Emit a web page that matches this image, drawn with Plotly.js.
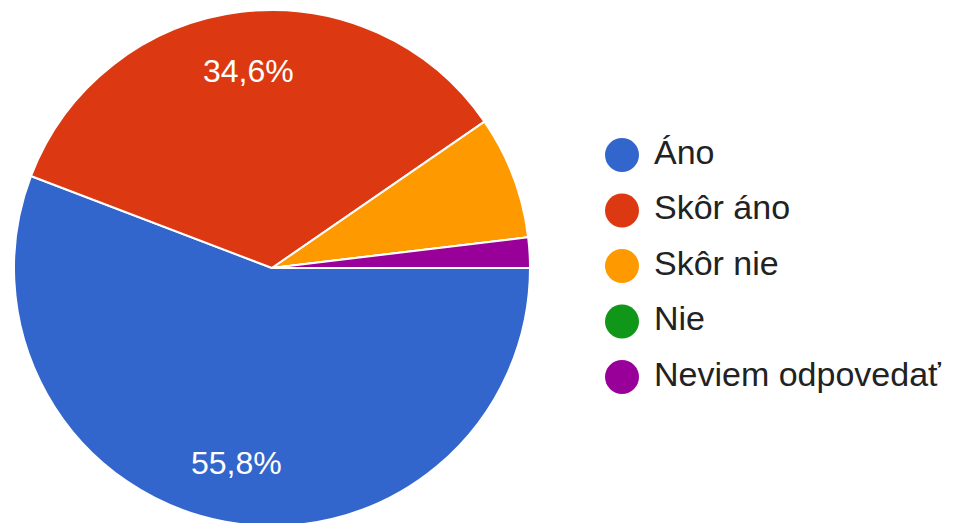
<!DOCTYPE html>
<html>
<head>
<meta charset="utf-8">
<script src="https://cdn.plot.ly/plotly-3.0.1.min.js"></script>
<style>
html, body { margin: 0; padding: 0; overflow: hidden; background: #fff; }
#chart { width: 954px; height: 540px; }
</style>
</head>
<body>
<div id="chart"></div>
<script>
// Data
const categories = ["Áno", "Skôr áno", "Skôr nie", "Nie", "Neviem odpovedať"];
const percents = [55.8, 34.6, 7.7, 0, 1.9];
const colors = ["#3366cc", "#dc3912", "#ff9900", "#109618", "#990099"];

const sliceLabels = percents.map(v => v >= 10 ? v.toFixed(1).replace('.', ',') + '%' : '');

const W = 954, H = 540;
const cx = 272, cy = 268, R = 258;
const FONT = 'Liberation Sans, Arial, sans-serif';

const pie = {
  type: 'pie',
  labels: categories,
  values: percents,
  textinfo: 'none',
  sort: false,
  direction: 'clockwise',
  rotation: 90,
  marker: { colors: colors, line: { color: '#ffffff', width: 2 } },
  showlegend: false,
  hoverinfo: 'label+percent',
  domain: { x: [(cx - R) / W, (cx + R) / W], y: [(H - cy - R) / H, (H - cy + R) / H] }
};

// Slice percentage labels placed along each slice's bisector (Google-style, ~0.77 R)
const total = percents.reduce((a, b) => a + b, 0);
let cum = 0;
const annotations = [];
percents.forEach((v, i) => {
  const startDeg = cum / total * 360;
  cum += v;
  const endDeg = cum / total * 360;
  if (!sliceLabels[i]) return;
  const mid = (startDeg + endDeg) / 2 * Math.PI / 180; // clockwise from 3 o'clock
  const px = cx + 0.77 * R * Math.cos(mid);
  const py = cy + 0.77 * R * Math.sin(mid);
  annotations.push({
    xref: 'paper', yref: 'paper', x: px / W, y: 1 - py / H,
    xanchor: 'center', yanchor: 'middle', showarrow: false,
    text: sliceLabels[i],
    font: { color: '#ffffff', size: 32, family: FONT }
  });
});

// Custom legend with round markers, drawn as scatter traces on hidden axes
const legendX0 = 572.4;
const markerCx = 622;
const rowTop = 155, rowStep = 55.5;
const idx = categories.map((_, i) => i);

const legendMarkers = {
  type: 'scatter', mode: 'markers',
  x: categories.map(() => 0), y: idx,
  marker: { color: colors, size: 34, line: { width: 0 } },
  showlegend: false, hoverinfo: 'skip',
  xaxis: 'x', yaxis: 'y'
};
const legendText = {
  type: 'scatter', mode: 'text',
  x: categories.map(() => 32), y: idx,
  text: categories,
  textposition: 'middle right',
  textfont: { color: '#222222', size: 34, family: FONT },
  showlegend: false, hoverinfo: 'skip',
  xaxis: 'x', yaxis: 'y'
};

const xWidth = W - legendX0;
const yTopVal = -rowTop / rowStep;
const yBotVal = yTopVal + H / rowStep;

const layout = {
  width: W, height: H,
  margin: { l: 0, r: 0, t: 0, b: 0 },
  paper_bgcolor: '#ffffff', plot_bgcolor: 'rgba(0,0,0,0)',
  showlegend: false,
  xaxis: { domain: [legendX0 / W, 1], range: [legendX0 - markerCx, legendX0 - markerCx + xWidth], visible: false, fixedrange: true },
  yaxis: { domain: [0, 1], range: [yBotVal, yTopVal], visible: false, fixedrange: true },
  annotations: annotations,
  font: { family: FONT }
};

Plotly.newPlot('chart', [pie, legendMarkers, legendText], layout, { displayModeBar: false, staticPlot: true });
</script>
</body>
</html>
